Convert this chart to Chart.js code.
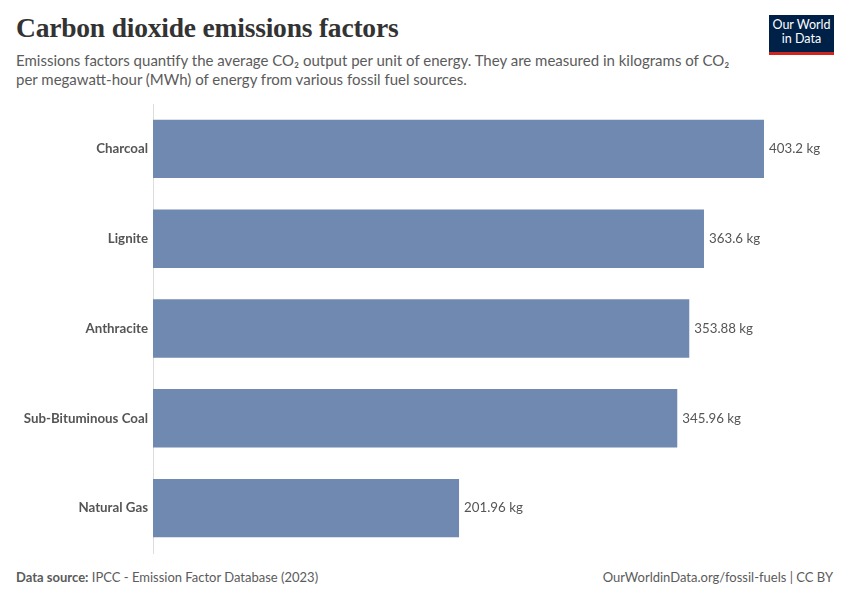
<!DOCTYPE html>
<html>
<head>
<meta charset="utf-8">
<script src="https://cdn.jsdelivr.net/npm/chart.js@4"></script>
<style>
    body { margin: 0; width: 850px; height: 600px; background: #fff; font-family: Lato, "Noto Sans", sans-serif; position: relative; overflow: hidden; }
    .title { position: absolute; left: 16px; top: 12px; font-family: "Liberation Serif", "DejaVu Serif", serif; font-weight: bold; font-size: 27.5px; color: #333; letter-spacing: -0.2px; }
    .subtitle { position: absolute; left: 16px; top: 51px; font-size: 15px; line-height: 19px; color: #5b5b5b; }
    .logo { position: absolute; left: 769px; top: 15px; width: 65px; height: 34px; background: #002147; border-bottom: 3px solid #ce261e; color: #fff; font-size: 12.5px; line-height: 14px; text-align: center; padding-top: 3px; box-sizing: content-box; }
    .footer { position: absolute; top: 569px; font-size: 13px; color: #5b5b5b; }
    #wrap { position: absolute; left: 0; top: 95px; width: 850px; height: 465px; }
</style>
</head>
<body>
<div class="title">Carbon dioxide emissions factors</div>
<div class="subtitle">Emissions factors quantify the average CO₂ output per unit of energy. They are measured in kilograms of CO₂<br>per megawatt-hour (MWh) of energy from various fossil fuel sources.</div>
<div class="logo">Our World<br>in Data</div>
<div class="footer" style="left:16px"><b style="font-weight:bold">Data source:</b> IPCC - Emission Factor Database (2023)</div>
<div class="footer" style="right:17px">OurWorldinData.org/fossil-fuels | CC BY</div>
<div id="wrap"><canvas id="chart"></canvas></div>

<script>
const fuels = ['Charcoal', 'Lignite', 'Anthracite', 'Sub-Bituminous Coal', 'Natural Gas'];
const emissions = [403.2, 363.6, 353.88, 345.96, 201.96];
const unit = 'kg';

// etiquetas de valor al final de cada barra
const valueLabels = {
    id: 'valueLabels',
    afterDatasetsDraw(chart) {
        const ctx = chart.ctx;
        const meta = chart.getDatasetMeta(0);
        ctx.save();
        ctx.font = '13.3px Lato, sans-serif';
        ctx.fillStyle = '#555';
        ctx.textBaseline = 'middle';
        meta.data.forEach((bar, i) => {
            ctx.fillText(`${emissions[i]} ${unit}`, bar.x + 5, bar.y);
        });
        ctx.restore();
    }
};

new Chart(document.getElementById('chart'), {
    type: 'bar',
    data: {
        labels: fuels,
        datasets: [{
            data: emissions,
            backgroundColor: '#6f89b0',
            categoryPercentage: 1,
            barPercentage: 0.65
        }]
    },
    options: {
        indexAxis: 'y',
        responsive: true,
        maintainAspectRatio: false,
        animation: false,
        layout: { padding: { top: 9, bottom: 7, right: 86, left: 0 } },
        scales: {
            x: { display: false, min: 0, max: 403.2 },
            y: {
                afterFit: scale => {
                    scale.width = 153;
                    scale.paddingTop = 0;
                    scale.paddingBottom = 0;
                },
                grid: { display: false, drawTicks: false },
                border: { display: true, color: '#ddd', width: 1 },
                ticks: {
                    color: '#555',
                    padding: 5,
                    font: { family: 'Lato, sans-serif', size: 13.3, weight: 'bold' }
                }
            }
        },
        plugins: {
            legend: { display: false },
            tooltip: { enabled: false }
        }
    },
    plugins: [valueLabels]
});
</script>
</body>
</html>
